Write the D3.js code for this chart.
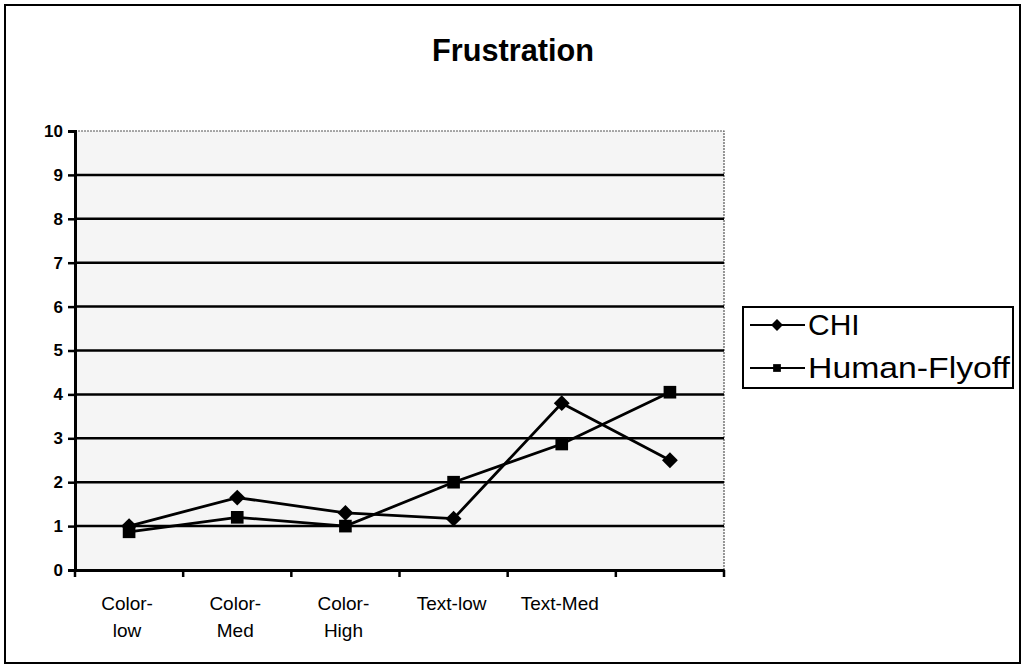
<!DOCTYPE html>
<html><head><meta charset="utf-8">
<script src="https://cdn.jsdelivr.net/npm/d3@7"></script>
<style>body{margin:0;background:#fff}svg{display:block}text{font-family:"Liberation Sans",Arial,sans-serif;fill:#000}</style>
</head><body>
<script>
const categories = ["Color-low","Color-Med","Color-High","Text-low","Text-Med",""];
const categoryLines = [["Color-","low"],["Color-","Med"],["Color-","High"],["Text-low"],["Text-Med"],[]];
const chiValues = [1.0, 1.65, 1.3, 1.17, 3.8, 2.5];
const flyoffValues = [0.87, 1.2, 1.0, 2.0, 2.87, 4.05];
const yTicks = [0,1,2,3,4,5,6,7,8,9,10];
const seriesNames = ["CHI","Human-Flyoff"];

const W = 1026, H = 670;
const svg = d3.select("body").append("svg").attr("width",W).attr("height",H);
svg.append("rect").attr("x",5).attr("y",5).attr("width",1015).attr("height",658)
  .attr("fill","#fff").attr("stroke","#000").attr("stroke-width",2);

const L = 75, R = 724, T = 131, B = 570;
const x = d3.scaleBand().domain(categories.map((c,i)=>i)).range([L,R]);
const y = d3.scaleLinear().domain([0,10]).range([B,T]);

svg.append("text").attr("x",513).attr("y",61).attr("text-anchor","middle")
  .attr("font-size",32).attr("font-weight","bold").attr("textLength",162).attr("lengthAdjust","spacingAndGlyphs").text("Frustration");

// plot background
svg.append("rect").attr("x",L).attr("y",T).attr("width",R-L).attr("height",B-T)
  .attr("fill","#f5f5f5").attr("stroke","#555").attr("stroke-width",1.2).attr("stroke-dasharray","2,1");

// gridlines
svg.append("g").selectAll("line").data(yTicks.filter(d=>d>0 && d<10)).join("line")
  .attr("x1",L).attr("x2",R).attr("y1",d=>y(d)).attr("y2",d=>y(d))
  .attr("stroke","#000").attr("stroke-width",2.5);

// y axis
const ya = svg.append("g").attr("transform",`translate(${L},0)`)
  .call(d3.axisLeft(y).tickValues(yTicks).tickSize(7).tickPadding(5).tickFormat(d3.format("d")));
ya.select(".domain").attr("stroke","#000").attr("stroke-width",3);
ya.selectAll(".tick line").attr("stroke","#000").attr("stroke-width",2.5);
ya.selectAll(".tick text").attr("font-size",17).attr("font-weight","bold")
  .attr("font-family","Liberation Sans, Arial, sans-serif").attr("fill","#000");

// x axis
const xa = svg.append("g").attr("transform",`translate(0,${B})`)
  .call(d3.axisBottom(x).tickSize(0).tickFormat(""));
xa.select(".domain").attr("stroke","#000").attr("stroke-width",3);
const tickPos = categories.map((c,i)=>x(i)).concat([R]);
svg.append("g").selectAll("line").data(tickPos).join("line")
  .attr("x1",d=>d).attr("x2",d=>d).attr("y1",B).attr("y2",B+7)
  .attr("stroke","#000").attr("stroke-width",2.5);

categoryLines.forEach((lines,i)=>{
  const t = svg.append("text").attr("x",x(i)+x.bandwidth()/2-2).attr("y",610)
    .attr("text-anchor","middle").attr("font-size",19);
  lines.forEach((s,j)=>t.append("tspan").attr("x",x(i)+x.bandwidth()/2-2).attr("dy",j?27:0).text(s));
});

const cx = i => x(i)+x.bandwidth()/2;
const line = d3.line().x((d,i)=>cx(i)).y(d=>y(d));
svg.append("path").datum(flyoffValues).attr("d",line).attr("fill","none").attr("stroke","#000").attr("stroke-width",2.8);
svg.append("path").datum(chiValues).attr("d",line).attr("fill","none").attr("stroke","#000").attr("stroke-width",2.8);

const diamond = d3.symbol().type(d3.symbolDiamond2).size(160);
const square = d3.symbol().type(d3.symbolSquare).size(160);
svg.append("g").selectAll("path").data(chiValues).join("path")
  .attr("d",diamond).attr("transform",(d,i)=>`translate(${cx(i)},${y(d)})`).attr("fill","#000");
svg.append("g").selectAll("path").data(flyoffValues).join("path")
  .attr("d",square).attr("transform",(d,i)=>`translate(${cx(i)},${y(d)})`).attr("fill","#000");

// legend
const lg = svg.append("g");
lg.append("rect").attr("x",743).attr("y",307).attr("width",270).attr("height",81)
  .attr("fill","#fff").attr("stroke","#000").attr("stroke-width",2);
seriesNames.forEach((n,k)=>{
  const yy = 325 + k*43;
  lg.append("line").attr("x1",750).attr("x2",805).attr("y1",yy).attr("y2",yy).attr("stroke","#000").attr("stroke-width",2);
  lg.append("path").attr("d",k===0?d3.symbol().type(d3.symbolDiamond2).size(90)():d3.symbol().type(d3.symbolSquare).size(60)())
    .attr("transform",`translate(777,${yy})`).attr("fill","#000");
  const t = lg.append("text").attr("x",808).attr("y",yy+10).attr("font-size",30).text(n);
  if (k===1) t.attr("textLength",202).attr("lengthAdjust","spacingAndGlyphs");
});
</script>
</body></html>
